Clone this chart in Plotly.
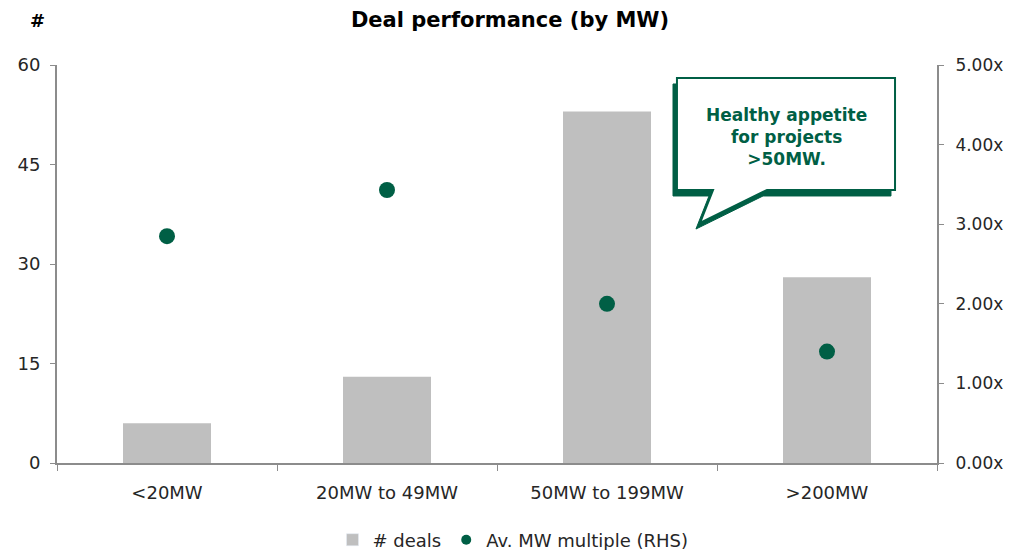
import plotly.graph_objects as go

# Deal size buckets and their values
categories = ["<20MW", "20MW to 49MW", "50MW to 199MW", ">200MW"]
deal_counts = [6, 13, 53, 28]
mw_multiples = [2.85, 3.43, 2.00, 1.40]

left_ticks = [0, 15, 30, 45, 60]
right_ticks = [0, 1, 2, 3, 4, 5]
right_labels = [f"{v:.2f}x" for v in right_ticks]

GREEN = "#005f45"
GREY_BAR = "#bfbfbf"
AXIS = "#8c8c8c"
TEXT = "#262626"
FONT = "DejaVu Sans"

# plot-area pixel geometry (used to place the callout)
W, H = 1013, 550
L, R, T, B = 57, 76, 65, 87
PW, PH = W - L - R, H - T - B


def px(x):
    return (x - L) / PW


def py(y):
    return (H - B - y) / PH


fig = go.Figure()

fig.add_trace(go.Bar(
    x=categories, y=deal_counts, name="# deals",
    marker=dict(color=GREY_BAR, line=dict(width=0)),
    width=0.4, showlegend=False, yaxis="y",
))
fig.add_trace(go.Scatter(
    x=categories, y=mw_multiples, name="Av. MW multiple (RHS)",
    mode="markers", marker=dict(color=GREEN, size=16),
    showlegend=False, yaxis="y2",
))

# legend entries with smaller symbols
fig.add_trace(go.Bar(x=[None], y=[None], name="# deals",
                     marker=dict(color=GREY_BAR), showlegend=True))
fig.add_trace(go.Scatter(x=[None], y=[None], name="Av. MW multiple (RHS)",
                         mode="markers", marker=dict(color=GREEN, size=10),
                         showlegend=True, yaxis="y2"))


# speech-bubble callout: offset shadow, then white box with outline
def bubble(dx, dy):
    pts = [(677, 78), (895, 78), (895, 190), (767, 190), (700, 223),
           (713, 190), (677, 190)]
    return "M " + " L ".join(f"{px(x + dx):.4f},{py(y + dy):.4f}" for x, y in pts) + " Z"


shapes = [
    dict(type="path", xref="paper", yref="paper", path=bubble(-4, 6),
         fillcolor=GREEN, line=dict(color=GREEN, width=1), layer="above"),
    dict(type="path", xref="paper", yref="paper", path=bubble(0, 0),
         fillcolor="white", line=dict(color=GREEN, width=2), layer="above"),
]

annotations = [
    dict(text="<b>Healthy appetite<br>for projects<br>>50MW.</b>",
         x=px(786), y=py(137), xref="paper", yref="paper",
         xanchor="center", yanchor="middle",
         showarrow=False, align="center",
         font=dict(family=FONT, size=17, color=GREEN)),
    dict(text="<b>#</b>", x=px(37), y=py(20), xref="paper", yref="paper",
         xanchor="center", yanchor="middle", showarrow=False,
         font=dict(family=FONT, size=18, color="#000000")),
]

fig.update_layout(
    width=W, height=H,
    margin=dict(l=L, r=R, t=T, b=B, autoexpand=False),
    paper_bgcolor="white", plot_bgcolor="white",
    font=dict(family=FONT, size=18, color=TEXT),
    title=dict(text="<b>Deal performance (by MW)</b>", x=510 / W, xanchor="center",
               y=1 - 20 / H, yanchor="middle",
               font=dict(family=FONT, size=21, color="#000000")),
    xaxis=dict(
        type="category", tickson="boundaries", ticks="outside", ticklen=6,
        tickcolor=AXIS, showline=True, linecolor=AXIS, linewidth=2,
        showgrid=False, zeroline=False, ticklabelstandoff=12,
        tickfont=dict(size=18, color=TEXT),
    ),
    yaxis=dict(
        range=[0, 60], tickvals=left_ticks, ticks="outside", ticklen=5,
        tickcolor=AXIS, showline=True, linecolor=AXIS, linewidth=2,
        showgrid=False, zeroline=False, ticklabelstandoff=6,
        tickfont=dict(size=18, color=TEXT),
    ),
    yaxis2=dict(
        range=[0, 5], tickvals=right_ticks, ticktext=right_labels,
        overlaying="y", side="right", ticks="outside", ticklen=5,
        tickcolor=AXIS, showline=True, linecolor=AXIS, linewidth=2,
        showgrid=False, zeroline=False, ticklabelstandoff=8,
        tickfont=dict(size=17, color=TEXT),
    ),
    legend=dict(orientation="h", x=px(513), xanchor="center", y=py(540),
                yanchor="middle", font=dict(size=18, color=TEXT),
                tracegroupgap=0),
    shapes=shapes,
    annotations=annotations,
    bargap=0.6,
)

fig.write_html("out.html")
